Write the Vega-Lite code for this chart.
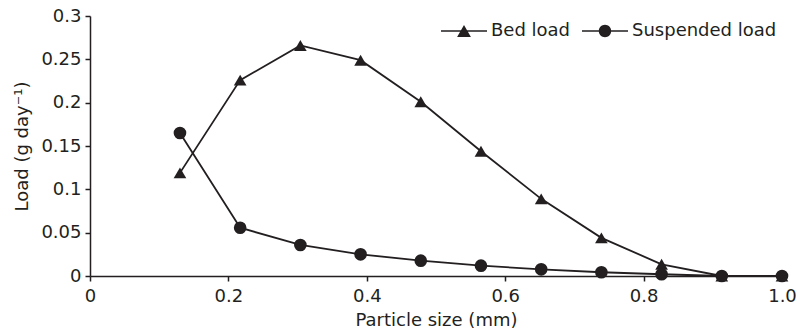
{
  "$schema": "https://vega.github.io/schema/vega-lite/v6.json",
  "autosize": {"type": "none"},
  "width": 692,
  "height": 260,
  "padding": {"left": 90, "top": 16, "right": 26, "bottom": 59},
  "background": "white",
  "config": {
    "view": {"stroke": null},
    "font": "DejaVu Sans",
    "axis": {
      "grid": false,
      "labelFlush": false,
      "labelOverlap": false,
      "domainColor": "#231f20",
      "domainWidth": 1.5,
      "tickColor": "#231f20",
      "tickWidth": 1.5,
      "tickSize": 5,
      "labelColor": "#231f20",
      "labelFontSize": 18,
      "titleColor": "#231f20",
      "titleFontSize": 18,
      "titleFontWeight": "normal",
      "labelFont": "DejaVu Sans",
      "titleFont": "DejaVu Sans"
    }
  },
  "data": {
    "values": [
      {"size": 0.13, "load": 0.119, "series": "Bed load"},
      {"size": 0.217, "load": 0.226, "series": "Bed load"},
      {"size": 0.304, "load": 0.266, "series": "Bed load"},
      {"size": 0.391, "load": 0.249, "series": "Bed load"},
      {"size": 0.478, "load": 0.201, "series": "Bed load"},
      {"size": 0.565, "load": 0.144, "series": "Bed load"},
      {"size": 0.652, "load": 0.089, "series": "Bed load"},
      {"size": 0.739, "load": 0.044, "series": "Bed load"},
      {"size": 0.826, "load": 0.0135, "series": "Bed load"},
      {"size": 0.913, "load": 0.0, "series": "Bed load"},
      {"size": 1.0, "load": 0.0, "series": "Bed load"},
      {"size": 0.13, "load": 0.165, "series": "Suspended load"},
      {"size": 0.217, "load": 0.0557, "series": "Suspended load"},
      {"size": 0.304, "load": 0.0358, "series": "Suspended load"},
      {"size": 0.391, "load": 0.025, "series": "Suspended load"},
      {"size": 0.478, "load": 0.0177, "series": "Suspended load"},
      {"size": 0.565, "load": 0.0119, "series": "Suspended load"},
      {"size": 0.652, "load": 0.0077, "series": "Suspended load"},
      {"size": 0.739, "load": 0.0043, "series": "Suspended load"},
      {"size": 0.826, "load": 0.002, "series": "Suspended load"},
      {"size": 0.913, "load": 0.0, "series": "Suspended load"},
      {"size": 1.0, "load": 0.0, "series": "Suspended load"}
    ]
  },
  "encoding": {
    "x": {
      "field": "size",
      "type": "quantitative",
      "scale": {"domain": [0, 1], "nice": false, "zero": true},
      "axis": {
        "title": "Particle size (mm)",
        "values": [0, 0.2, 0.4, 0.6, 0.8, 1.0],
        "labelExpr": "datum.value == 1 ? '1.0' : format(datum.value, '.1~f')",
        "labelPadding": 6,
        "titlePadding": 6
      }
    },
    "y": {
      "field": "load",
      "type": "quantitative",
      "scale": {"domain": [0, 0.3], "nice": false},
      "axis": {
        "title": "Load (g day⁻¹)",
        "values": [0, 0.05, 0.1, 0.15, 0.2, 0.25, 0.3],
        "labelExpr": "format(datum.value, '.2~f')",
        "labelPadding": 4,
        "titlePadding": 9
      }
    }
  },
  "layer": [
    {
      "mark": {"type": "line", "color": "#231f20", "strokeWidth": 1.8},
      "encoding": {"detail": {"field": "series"}}
    },
    {
      "mark": {"type": "point", "filled": true, "color": "#231f20", "opacity": 1},
      "encoding": {
        "shape": {
          "field": "series",
          "type": "nominal",
          "scale": {"domain": ["Bed load", "Suspended load"], "range": ["triangle-up", "circle"]},
          "legend": null
        },
        "size": {"value": 160}
      }
    },
    {
      "mark": {"type": "point", "filled": true, "color": "#231f20", "opacity": 0},
      "encoding": {
        "shape": {
          "field": "series",
          "type": "nominal",
          "scale": {
            "domain": ["Bed load", "Suspended load"],
            "range": [
              "M-1,-0.035H1V0.035H-1ZM0,-0.26L0.3,0.26L-0.3,0.26Z",
              "M-1,-0.035H1V0.035H-1ZM0.27,0C0.27,0.149 0.149,0.27 0,0.27C-0.149,0.27 -0.27,0.149 -0.27,0C-0.27,-0.149 -0.149,-0.27 0,-0.27C0.149,-0.27 0.27,-0.149 0.27,0Z"
            ]
          },
          "legend": {
            "title": null,
            "orient": "none",
            "direction": "horizontal",
            "legendX": 351,
            "legendY": -8,
            "padding": 0,
            "offset": 0,
            "symbolSize": 2116,
            "symbolOpacity": 1,
            "symbolFillColor": "#231f20",
            "symbolStrokeColor": "#231f20",
            "symbolStrokeWidth": 0,
            "labelFontSize": 18,
            "labelColor": "#231f20",
            "labelFont": "DejaVu Sans",
            "labelOffset": 4,
            "columnPadding": 11
          }
        },
        "size": {"value": 150}
      }
    }
  ],
  "resolve": {"scale": {"shape": "independent"}, "legend": {"shape": "independent"}}
}
